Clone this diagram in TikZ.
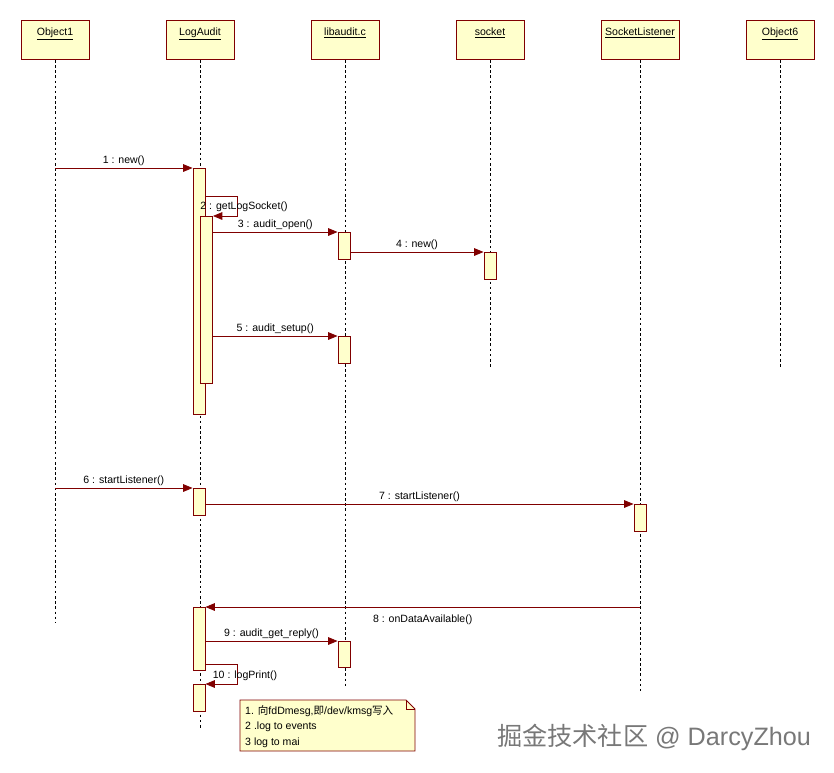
\documentclass[tikz,border=0pt]{standalone}
\usepackage{fontspec}
\setmainfont{Liberation Sans}
\newfontfamily\cjk{Noto Sans CJK SC}
\usetikzlibrary{arrows.meta,positioning,calc}
\definecolor{umlfill}{RGB}{255,255,204}
\definecolor{umlline}{RGB}{128,0,0}
\definecolor{markgray}{RGB}{120,120,120}
\tikzset{
  head/.style={draw=umlline, fill=umlfill, line width=0.8pt, inner sep=0pt, anchor=north,
    text height=0.45cm, text depth=0.72cm, font=\fontsize{9}{11}\selectfont},
  actbox/.style={draw=umlline, fill=umlfill, line width=0.8pt, inner sep=0pt, anchor=north,
    minimum width=0.36cm},
  lifeline/.style={black, line width=0.7pt, dash pattern=on 2.2pt off 2.2pt},
  msg/.style={umlline, line width=0.7pt, -{Triangle[length=8pt,width=6.5pt]}},
  msglabel/.style={text=black, font=\fontsize{9}{11}\selectfont, inner sep=2pt}
}
% activation bar: name, x, top, bottom
\newcommand{\activ}[4]{\node[actbox, minimum height={(#4-#3)*0.03cm}] (#1) at (#2,#3) {};}

\begin{document}
\begin{tikzpicture}[x=0.03cm,y=-0.03cm]
\useasboundingbox (0,0) rectangle (834,772);
% objects and lifelines
\foreach \n/\x/\w/\t/\e in {o1/55/68/Object1/622, la/200/68/LogAudit/728, lib/345/68/libaudit.c/687,
    sk/490/68/socket/368, sl/640/78/SocketListener/693, o6/780/68/Object6/368}{
  \node[head, minimum width={\w*0.03cm}] (\n) at (\x,20) {\underline{\t}};
  \coordinate (\n e) at (\x,\e);
  \draw[lifeline] (\n.south) -- (\n e);
}
% activations
\activ{a1}{199}{168}{414}
\activ{a2}{206.5}{216}{383}
\activ{b3}{344}{232}{259}
\activ{c4}{490}{252}{279}
\activ{b5}{344}{336}{363}
\activ{a6}{199}{488}{515}
\activ{d7}{640}{504}{531}
\activ{a8}{199}{607}{670}
\activ{b9}{344}{641}{667}
\activ{a10}{199}{684}{711}
% messages
\draw[msg] (o1 |- a1.north) -- node[msglabel, above] {1 : new()} (a1.north west);
\draw[msg] ($(a1.north east)+(0,28)$) -- ++(32,0) |- (a2.north east);
\node[msglabel] (m2) at (244,207) {2 : getLogSocket()};
\draw[msg] (a2.east |- b3.north) -- node[msglabel, above] {3 : audit\_open()} (b3.north west);
\draw[msg] (b3.east |- c4.north) -- node[msglabel, above] {4 : new()} (c4.north west);
\draw[msg] (a2.east |- b5.north) -- node[msglabel, above] {5 : audit\_setup()} (b5.north west);
\draw[msg] (o1 |- a6.north) -- node[msglabel, above] {6 : startListener()} (a6.north west);
\draw[msg] (a6.east |- d7.north) -- node[msglabel, above] {7 : startListener()} (d7.north west);
\draw[msg] (sl |- a8.north) -- node[msglabel, below, yshift=-4pt] {8 : onDataAvailable()} (a8.north east);
\draw[msg] (a8.east |- b9.north) -- node[msglabel, above] {9 : audit\_get\_reply()} (b9.north west);
\draw[msg] ($(a10.north east)+(0,-20)$) -- ++(32,0) |- (a10.north east);
\node[msglabel] (m10) at (245,676) {10 : logPrint()};
% note
\draw[umlline, fill=umlfill, line width=0.8pt] (240,700) -- (406,700) -- (415,709) -- (415,751) -- (240,751) -- cycle;
\draw[umlline, line width=0.8pt] (406,700) -- (406,709) -- (415,709);
\node[anchor=north west, align=left, inner sep=0pt, font=\fontsize{9}{13.5}\selectfont] (note) at (245,705)
  {1. {\cjk 向}fdDmesg,{\cjk 即}/dev/kmsg{\cjk 写入}\\2 .log to events\\3 log to mai};
% watermark
\node[markgray, font=\fontsize{21.5}{24}\selectfont] (mark) at (654,737) {{\cjk 掘金技术社区} @ DarcyZhou};
\end{tikzpicture}
\end{document}
